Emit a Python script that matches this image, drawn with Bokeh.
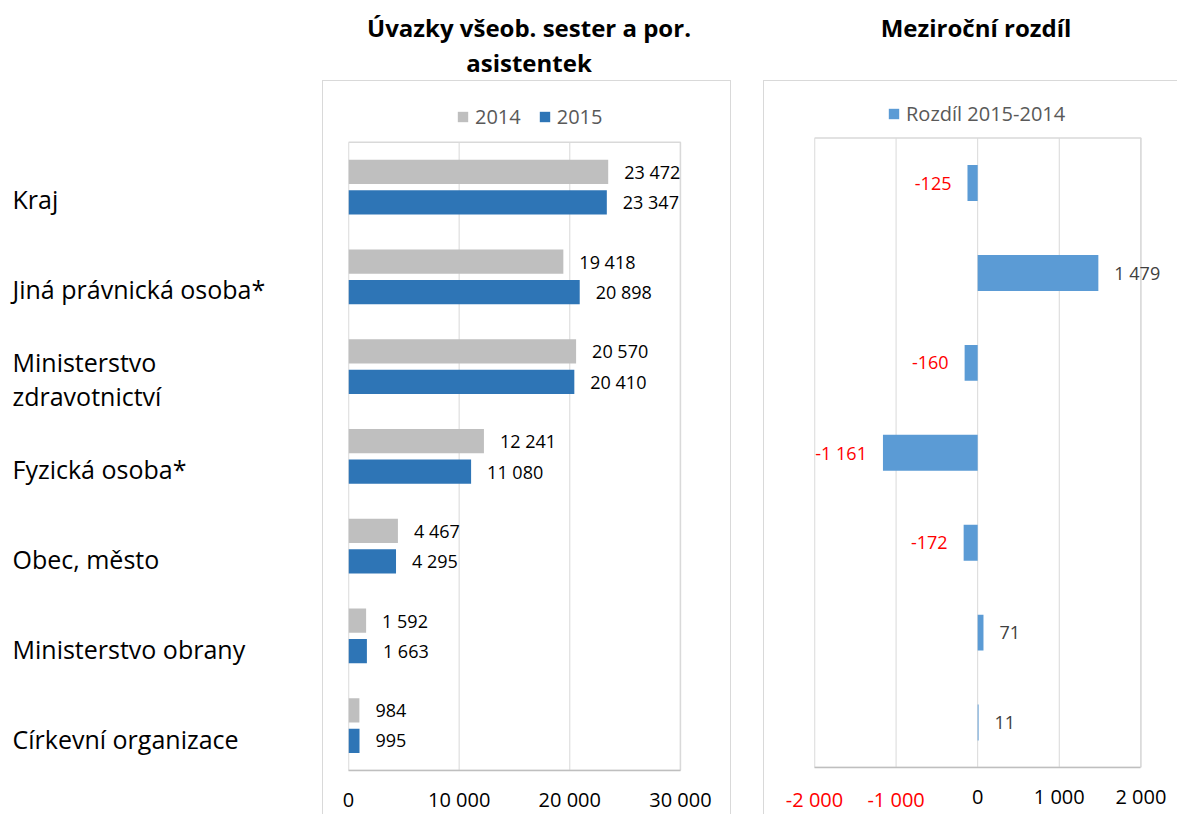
from bokeh.plotting import figure
from bokeh.models import (ColumnDataSource, Range1d, FixedTicker, LabelSet, Legend,
                          LegendItem, Spacer, LinearAxis)
from bokeh.layouts import row, column
from bokeh.transform import dodge
from bokeh.embed import file_html
from bokeh.resources import INLINE
from bokeh.core.properties import value

# ---------------- data ----------------
categories = ["Kraj", "Jiná právnická osoba*", "Ministerstvo\nzdravotnictví",
              "Fyzická osoba*", "Obec, město", "Ministerstvo obrany",
              "Církevní organizace"]
values_2014 = [23472, 19418, 20570, 12241, 4467, 1592, 984]
values_2015 = [23347, 20898, 20410, 11080, 4295, 1663, 995]
diff_values = [-125, 1479, -160, -1161, -172, 71, 11]
series_names = ["2014", "2015"]
diff_name = "Rozdíl 2015-2014"
left_ticks = [0, 10000, 20000, 30000]
right_ticks = [-2000, -1000, 0, 1000, 2000]
title_left = "Úvazky všeob. sester a por.\nasistentek"
title_right = "Meziroční rozdíl"

FONT = "Open Sans"
GRID = "#d9d9d9"
C14 = "#bfbfbf"
C15 = "#2e75b6"
CDIFF = "#5b9bd5"
TOTAL_H = 814
HEAD_H = 80


def fmt(v):
    return f"{v:,}".replace(",", " ")


n_cat = len(categories)
idx = list(range(n_cat))
y_top, y_bot = -0.5, n_cat - 0.5

# ---------------- category labels ----------------
lab = figure(width=322, height=TOTAL_H, x_range=Range1d(0, 1), y_range=Range1d(y_bot, y_top),
             x_axis_type=None, y_axis_type=None, output_backend="svg",
             toolbar_location=None, min_border_left=0, min_border_right=0,
             min_border_top=141, min_border_bottom=43)
lab.grid.visible = False
lab.outline_line_color = None
lab.text(x=0, y="y", text="name", source=ColumnDataSource(dict(y=idx, name=categories)),
         x_offset=12, y_offset=12, text_font=value(FONT), text_font_size="25px",
         text_color="#000000", text_align="left", text_baseline="middle",
         text_line_height=1.0)


# ---------------- titles ----------------
def title_fig(width, text, dx):
    t = figure(width=width, height=HEAD_H, x_range=Range1d(0, 1), y_range=Range1d(0, 1),
               x_axis_type=None, y_axis_type=None, output_backend="svg",
               toolbar_location=None, min_border_top=0, min_border_bottom=0)
    t.grid.visible = False
    t.outline_line_color = None
    t.text(x=[0.5], y=[1], text=[text], x_offset=dx, y_offset=10,
           text_font=value(FONT), text_font_size="24px", text_font_style="bold",
           text_color="#000000", text_align="center", text_baseline="top",
           text_line_height=1.07)
    return t


tl = title_fig(409, title_left, 10)
tr = title_fig(414, title_right, -17)


def chart(width, x_end, ticks, border_l, border_r, plot_top_px, plot_h):
    """Frame spans from just under the chart-area top to the plot-area bottom;
    the extra room above the categories holds the legend."""
    fig_h = TOTAL_H - HEAD_H
    border_t = 10
    frame_h = fig_h - border_t - (TOTAL_H - (plot_top_px + plot_h))
    px_per_cat = plot_h / n_cat
    head_units = (plot_top_px - HEAD_H - border_t) / px_per_cat
    p = figure(width=width, height=fig_h, x_range=Range1d(ticks[0], x_end),
               y_range=Range1d(y_bot, y_top - head_units), y_axis_type=None,
               output_backend="svg", toolbar_location=None,
               min_border_left=border_l, min_border_right=border_r,
               min_border_top=border_t, min_border_bottom=fig_h - border_t - frame_h)
    p.background_fill_color = "white"
    p.border_fill_color = "white"
    p.outline_line_color = None
    p.grid.visible = False
    ax = p.xaxis[0]
    ax.ticker = FixedTicker(ticks=ticks)
    ax.bounds = (ticks[0], ticks[-1])
    ax.major_tick_out = 0
    ax.major_tick_in = 0
    ax.minor_tick_out = 0
    ax.minor_tick_in = 0
    ax.axis_line_color = "#bfbfbf"
    ax.axis_line_width = 1.5
    ax.major_label_standoff = 15
    ax.major_label_text_font = FONT
    ax.major_label_text_font_size = "20px"
    ax.major_label_text_color = "#000000"
    # vertical gridlines and plot-area border, limited to the plot area
    p.segment(x0=ticks, x1=ticks, y0=[y_top] * len(ticks), y1=[y_bot] * len(ticks),
              line_color=GRID, line_width=1)
    p.quad(left=[ticks[0]], right=[ticks[-1]], top=[y_top], bottom=[y_bot],
           fill_color=None, line_color=GRID, line_width=1.5)
    return p


def style_legend(leg):
    leg.glyph_width = 13
    leg.glyph_height = 13
    leg.label_standoff = 6
    leg.spacing = 17
    leg.padding = 0
    leg.margin = 0
    leg.border_line_color = None
    leg.background_fill_alpha = 0
    leg.label_text_font = FONT
    leg.label_text_font_size = "20px"
    leg.label_text_color = "#595959"


# ---------------- left chart ----------------
p1 = chart(409, 31000, left_ticks, 25, 41, 141, 630)
p1.styles = {"border-top": f"1px solid {GRID}", "border-left": f"1px solid {GRID}",
             "border-right": f"1px solid {GRID}"}
p1.xaxis[0].major_label_overrides = {t: fmt(t) for t in left_ticks}
src1 = ColumnDataSource(dict(y=idx, v14=values_2014, v15=values_2015,
                             l14=[fmt(v) for v in values_2014],
                             l15=[fmt(v) for v in values_2015]))
r14 = p1.hbar(y=dodge("y", -0.17, range=p1.y_range), left=0, right="v14", height=0.27,
              fill_color=C14, line_color=None, source=src1)
r15 = p1.hbar(y=dodge("y", 0.17, range=p1.y_range), left=0, right="v15", height=0.27,
              fill_color=C15, line_color=None, source=src1)
for vcol, lcol, off in (("v14", "l14", -0.17), ("v15", "l15", 0.17)):
    p1.add_layout(LabelSet(x=vcol, y=dodge("y", off, range=p1.y_range),
                           text=lcol, source=src1, x_offset=16, text_align="left",
                           text_baseline="middle", text_font=value(FONT),
                           text_font_size="18px", text_color="#000000"))
leg1 = Legend(items=[LegendItem(label=series_names[0], renderers=[r14]),
                     LegendItem(label=series_names[1], renderers=[r15])],
              orientation="horizontal", location=(108, 640))
style_legend(leg1)
p1.add_layout(leg1)

# ---------------- right chart ----------------
p2 = chart(414, 2400, right_ticks, 50, 2, 137, 635)
p2.styles = {"border-top": f"1px solid {GRID}", "border-left": f"1px solid {GRID}"}
neg_ticks = [t for t in right_ticks if t < 0]
p2.xaxis[0].major_label_overrides = {t: (fmt(t) if t >= 0 else "") for t in right_ticks}
# red labels for the negative ticks on a second axis drawn on the same line
ax_neg = LinearAxis(ticker=FixedTicker(ticks=neg_ticks),
                    major_label_overrides={t: fmt(t) for t in neg_ticks},
                    axis_line_color=None, major_tick_out=0, major_tick_in=0,
                    minor_tick_out=0, minor_tick_in=0, major_label_standoff=-27,
                    major_label_text_font=FONT, major_label_text_font_size="20px",
                    major_label_text_color="#ff0000")
p2.add_layout(ax_neg, "below")

src2 = ColumnDataSource(dict(y=idx, d=diff_values))
rd = p2.hbar(y="y", left=0, right="d", height=0.4, fill_color=CDIFF, line_color=None,
             source=src2)
pos = [(i, d) for i, d in zip(idx, diff_values) if d >= 0]
neg = [(i, d) for i, d in zip(idx, diff_values) if d < 0]
src_pos = ColumnDataSource(dict(y=[i for i, _ in pos], d=[d for _, d in pos],
                                t=[fmt(d) for _, d in pos]))
src_neg = ColumnDataSource(dict(y=[i for i, _ in neg], d=[d for _, d in neg],
                                t=[fmt(d) for _, d in neg]))
p2.add_layout(LabelSet(x="d", y="y", text="t", source=src_pos, x_offset=16,
                       text_align="left", text_baseline="middle", text_font=value(FONT),
                       text_font_size="18px", text_color="#404040"))
p2.add_layout(LabelSet(x="d", y="y", text="t", source=src_neg, x_offset=-16,
                       text_align="right", text_baseline="middle", text_font=value(FONT),
                       text_font_size="18px", text_color="#ff0000"))
leg2 = Legend(items=[LegendItem(label=diff_name, renderers=[rd])],
              orientation="horizontal", location=(73, 640))
style_legend(leg2)
p2.add_layout(leg2)

layout = row(lab, column(tl, p1), Spacer(width=32, height=10), column(tr, p2))

with open("out.html", "w") as f:
    f.write(file_html(layout, INLINE))
